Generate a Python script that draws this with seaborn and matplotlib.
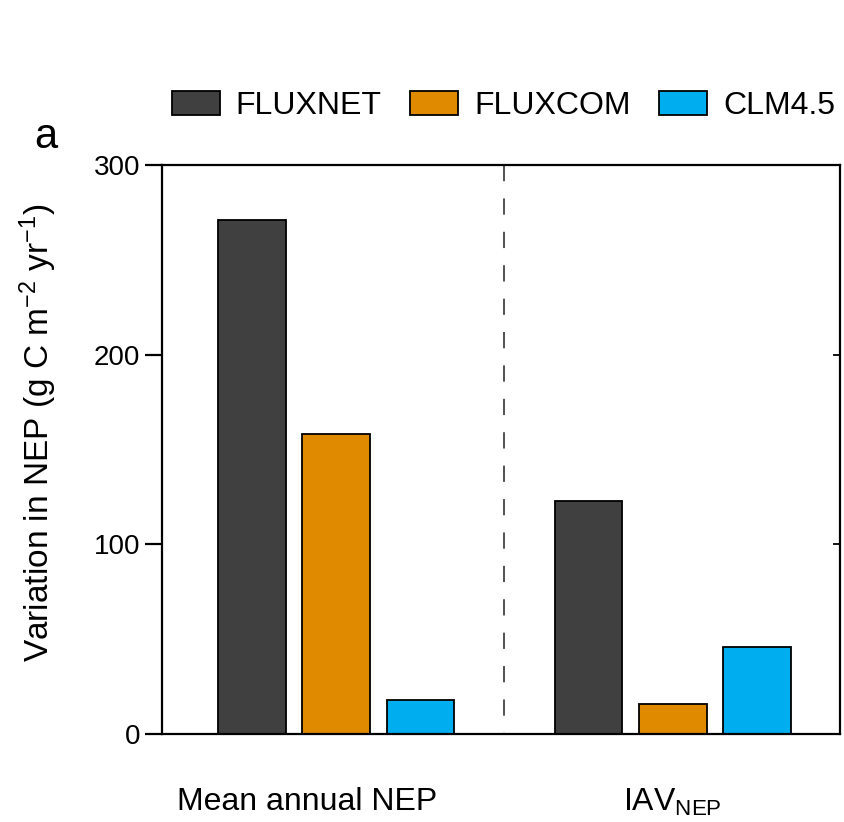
import matplotlib
matplotlib.use("Agg")
import matplotlib.pyplot as plt
import matplotlib.transforms as mtransforms
import seaborn as sns
import pandas as pd

# values (g C m-2 yr-1)
metrics = ["Mean annual NEP", "IAV$_{\\mathregular{NEP}}$"]
sources = ["FLUXNET", "FLUXCOM", "CLM4.5"]
fluxnet = [271, 123]
fluxcom = [158, 16]
clm45 = [18, 46]
colors = ["#404040", "#E08A00", "#00AEEF"]

sns.set_style("white")
plt.rcParams["font.family"] = ["Liberation Sans", "DejaVu Sans"]
plt.rcParams["mathtext.fontset"] = "custom"
plt.rcParams["mathtext.rm"] = "Liberation Sans"
plt.rcParams["mathtext.it"] = "Liberation Sans:italic"
plt.rcParams["mathtext.default"] = "regular"
plt.rcParams["text.color"] = "black"
plt.rcParams["axes.labelcolor"] = "black"
plt.rcParams["xtick.color"] = "black"
plt.rcParams["ytick.color"] = "black"

df = pd.DataFrame({
    "metric": metrics * 3,
    "source": [s for s in sources for _ in metrics],
    "value": fluxnet + fluxcom + clm45,
})

fig = plt.figure(figsize=(8.45, 8.22), dpi=100)
ax = fig.add_axes([0.192, 0.107, 0.802, 0.692])

sns.barplot(data=df, x="metric", y="value", hue="source", hue_order=sources,
            palette=colors, width=0.75, gap=0.2, edgecolor="black",
            linewidth=1.3, saturation=1, ax=ax)

# separator between the two groups, dashes starting from the top spine
ax.axvline(0.5, ymin=1, ymax=0, color="#444444", linestyle=(0, (9, 9.5)),
           linewidth=1.3)
ax.set_xlim(-0.516, 1.496)
ax.set_ylim(0, 300)
ax.set_yticks([0, 100, 200, 300])
ax.set_xlabel("")
ax.set_ylabel("Variation in NEP (g C m$^{-2}$ yr$^{-1}$)", fontsize=24)
ax.yaxis.set_label_coords(-0.152, 0.53)

for sp in ax.spines.values():
    sp.set_linewidth(1.6)
    sp.set_color("black")
ax.tick_params(axis="y", direction="out", length=12, width=1.6, labelsize=20,
               left=True, pad=4)
ax.tick_params(axis="x", length=0, labelsize=23, pad=38)

# first category label sits a bit left of its group in the original
lab0 = ax.get_xticklabels()[0]
shift = mtransforms.ScaledTranslation(-0.29, 0, fig.dpi_scale_trans)
lab0.set_transform(lab0.get_transform() + shift)

# inward ticks on the right spine
ax2 = ax.twinx()
ax2.set_ylim(0, 300)
ax2.set_yticks([0, 100, 200, 300])
ax2.tick_params(axis="y", direction="in", length=5, width=1.3, labelright=False)
for sp in ax2.spines.values():
    sp.set_visible(False)

handles, labels = ax.get_legend_handles_labels()
ax.legend(handles, labels, ncol=3, frameon=False, fontsize=23,
          loc="lower left", bbox_to_anchor=(-0.005, 1.055), borderaxespad=0,
          handlelength=1.5, handleheight=0.75, handletextpad=0.5,
          columnspacing=0.9)

fig.text(0.04, 0.82, "a", fontsize=30)

fig.savefig("out.png", dpi=100)
